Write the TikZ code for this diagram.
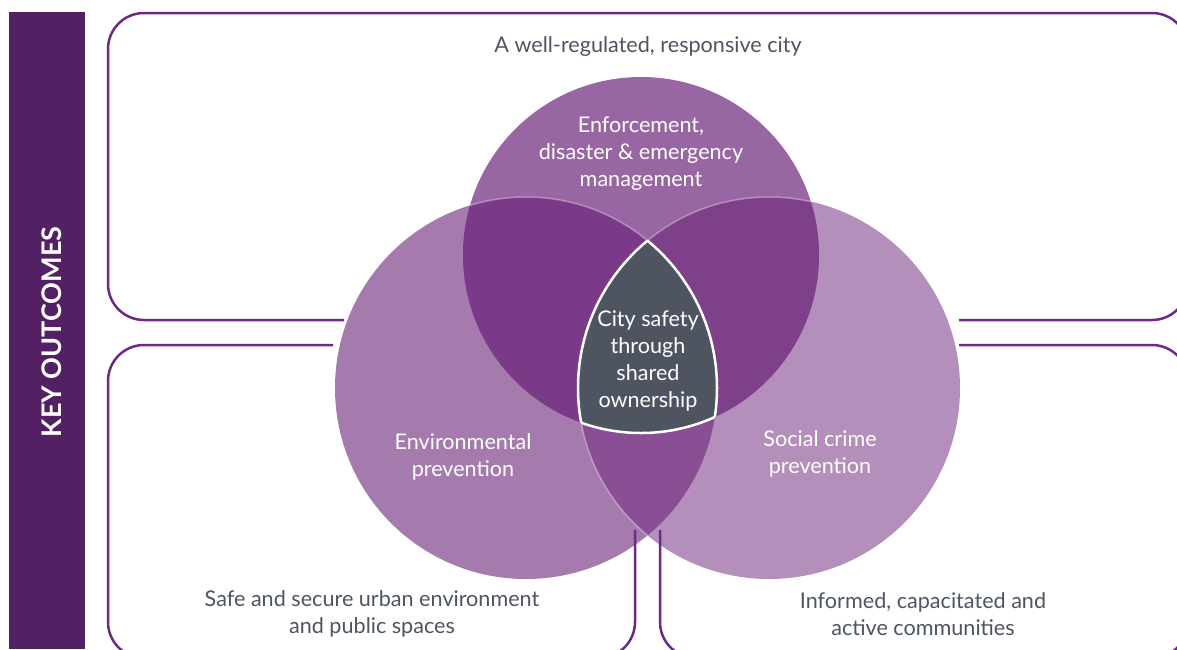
\documentclass[tikz,border=0pt]{standalone}
\usepackage{fontspec}
\setmainfont{Lato}
\definecolor{barC}{HTML}{532163}
\definecolor{lineC}{HTML}{6C2A84}
\definecolor{txtC}{HTML}{4D5562}
\definecolor{topC}{HTML}{9966A4}
\definecolor{leftC}{HTML}{A57BAE}
\definecolor{rightC}{HTML}{B48FBC}
\definecolor{tlC}{HTML}{7B3A88}
\definecolor{trC}{HTML}{7E4089}
\definecolor{lrC}{HTML}{8A4E94}
\definecolor{midC}{HTML}{4E5560}
\begin{document}
\begin{tikzpicture}[x=1pt,y=-1pt,
  boxline/.style={draw=lineC,line width=2.5pt,rounded corners=36pt},
  outtext/.style={text=txtC,align=center,font=\fontsize{21.6}{26.5}\selectfont},
  intext/.style={text=white,align=center,font=\fontsize{21.6}{27}\selectfont},
  thinwhite/.style={draw=white,draw opacity=0.35,line width=1.5pt}]
\useasboundingbox (0,0) rectangle (1177,649);
\def\cT{(641,255) circle[radius=178pt]}
\def\cL{(526,388) circle[radius=191pt]}
\def\cR{(769,388) circle[radius=191pt]}
% left bar
\fill[barC] (9,12) rectangle (85,649);
\node[rotate=90,text=white,font=\bfseries\fontsize{27}{30}\selectfont] (key) at (52,332) {KEY OUTCOMES};
% circles
\fill[leftC] \cL;
\fill[rightC] \cR;
\fill[topC] \cT;
\begin{scope}\clip \cL; \fill[lrC] \cR; \end{scope}
\begin{scope}\clip \cT; \fill[tlC] \cL; \end{scope}
\begin{scope}\clip \cT; \fill[trC] \cR; \end{scope}
\begin{scope}\clip \cT; \clip \cL; \fill[midC] \cR; \end{scope}
% faint outlines
\begin{scope}\clip \cT; \draw[thinwhite] \cL; \end{scope}
\begin{scope}\clip \cT; \draw[thinwhite] \cR; \end{scope}
\begin{scope}\clip \cL; \draw[thinwhite] \cR; \end{scope}
% white outline of centre
\begin{scope}\clip \cT; \clip \cL; \draw[white,line width=2.5pt] \cR; \end{scope}
\begin{scope}\clip \cT; \clip \cR; \draw[white,line width=2.5pt] \cL; \end{scope}
\begin{scope}\clip \cL; \clip \cR; \draw[white,line width=2.5pt] \cT; \end{scope}
% boxes
\draw[boxline] (344,320) -- (108,320) -- (108,13) -- (1188,13) -- (1188,320) -- (959,320);
\draw[boxline] (333,345) -- (108,345) -- (108,658) -- (635,658) -- (635,530);
\draw[boxline] (660,530) -- (660,658) -- (1188,658) -- (1188,345) -- (959,345);
% texts
\node[outtext] (t1) at (648,47) {A well-regulated, responsive city};
\node[outtext] (t2) at (372,614) {Safe and secure urban environment\\and public spaces};
\node[outtext] (t3) at (923,614) {Informed, capacitated and\\active communities};
\node[intext] (c1) at (641,154) {Enforcement,\\disaster \& emergency\\management};
\node[intext] (c2) at (648,361) {City safety\\through\\shared\\ownership};
\node[intext] (c3) at (463,457) {Environmental\\prevention};
\node[intext] (c4) at (820,454) {Social crime\\prevention};
\end{tikzpicture}
\end{document}
